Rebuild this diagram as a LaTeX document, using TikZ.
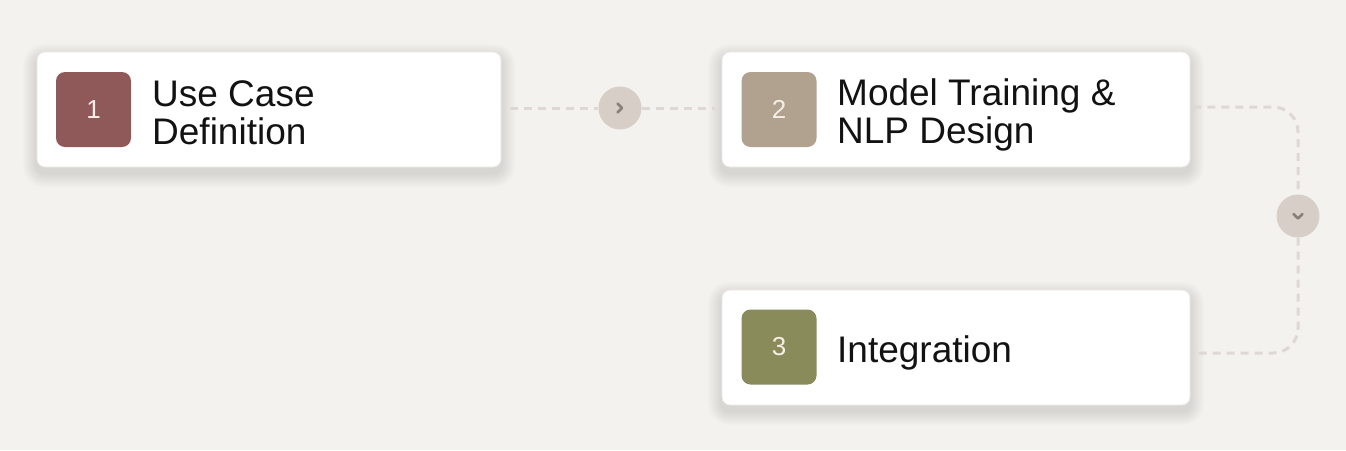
\documentclass[tikz,border=0pt]{standalone}
\usepackage{fontspec}
\setmainfont{Liberation Sans}
\definecolor{bgc}{RGB}{244,242,239}
\definecolor{boxborder}{RGB}{236,232,228}
\definecolor{dashc}{RGB}{221,216,211}
\definecolor{circc}{RGB}{214,206,199}
\definecolor{chevc}{RGB}{138,128,122}
\definecolor{badgeA}{RGB}{143,89,89}
\definecolor{badgeB}{RGB}{177,161,143}
\definecolor{badgeC}{RGB}{137,139,91}
\definecolor{numc}{RGB}{246,238,230}
\definecolor{txtc}{RGB}{18,18,18}
\pgfdeclarelayer{bgl}
\pgfdeclarelayer{shadowl}
\pgfsetlayers{bgl,shadowl,main}
\tikzset{
  card/.style={draw=boxborder, line width=0.8pt, fill=white, rounded corners=8pt,
    minimum height=115pt, inner sep=0pt},
  shade layer/.style={fill=black, fill opacity=0.008},
  badge/.style={fill=#1, rounded corners=9pt, minimum width=75pt, minimum height=75pt,
    inner sep=0pt, text=numc, font=\fontsize{26pt}{30pt}\selectfont},
  label/.style={anchor=base west, inner sep=0pt, text=txtc, font=\fontsize{37pt}{38pt}\selectfont},
  conn/.style={draw=dashc, line width=3pt, dash pattern=on 8pt off 6pt},
  hub/.style={circle, fill=circc, minimum size=43pt, inner sep=0pt},
  chev/.style={draw=chevc, line width=2.6pt, line cap=round, line join=round}
}
\begin{document}
\begin{tikzpicture}[x=1pt,y=-1pt]
\begin{pgfonlayer}{bgl}
\fill[bgc] (0,0) rectangle (1346,450);
\end{pgfonlayer}
\useasboundingbox (0,0) rectangle (1346,450);

% cards
\node[card, minimum width=464pt] (b1) at (269,109.5) {};
\node[card, minimum width=468pt] (b2) at (956,109.5) {};
\node[card, minimum width=468pt] (b3) at (956,347.5) {};

% soft shadows
\begin{pgfonlayer}{shadowl}
\foreach \b in {b1,b2,b3}{
  \foreach \i in {1,...,14}{
    \fill[shade layer, rounded corners=8pt+\i pt]
      ([xshift=-\i pt, yshift=-6pt+\i pt]\b.north west) rectangle
      ([xshift=\i pt, yshift=-6pt-\i pt]\b.south east);
  }
}
\end{pgfonlayer}

% badges
\node[badge=badgeA] (n1) at (93.5,109.5) {1};
\node[badge=badgeB] (n2) at (779,109.5) {2};
\node[badge=badgeC] (n3) at (779,347) {3};

% labels
\node[label] (t1a) at (152,106) {Use Case};
\node[label] (t1b) at (152,144) {Definition};
\node[label] (t2a) at (837,105) {Model Training \&};
\node[label] (t2b) at (837,143) {NLP Design};
\node[label] (t3) at (837,362) {Integration};

% hubs
\node[hub] (c1) at (620,108) {};
\node[hub] (c2) at (1298,216) {};
\draw[chev] ([xshift=-2.5pt,yshift=-4.5pt]c1.center) -- ([xshift=2pt]c1.center) -- ([xshift=-2.5pt,yshift=4.5pt]c1.center);
\draw[chev] ([xshift=-4.5pt,yshift=2pt]c2.center) -- ([yshift=-2.5pt]c2.center) -- ([xshift=4.5pt,yshift=2pt]c2.center);

% connectors
\draw[conn, shorten <=9pt] (b1.east |- c1) -- (c1.west);
\draw[conn, shorten >=7pt] (c1.east) -- (b2.west |- c1);
\coordinate (k1) at (1298,107);
\coordinate (k2) at (1298,353);
\draw[conn, rounded corners=25pt, shorten <=3pt] (b2.east |- k1) -| (c2.north);
\draw[conn, rounded corners=25pt, shorten >=3pt] (c2.south) |- (b3.east |- k2);
\end{tikzpicture}
\end{document}
